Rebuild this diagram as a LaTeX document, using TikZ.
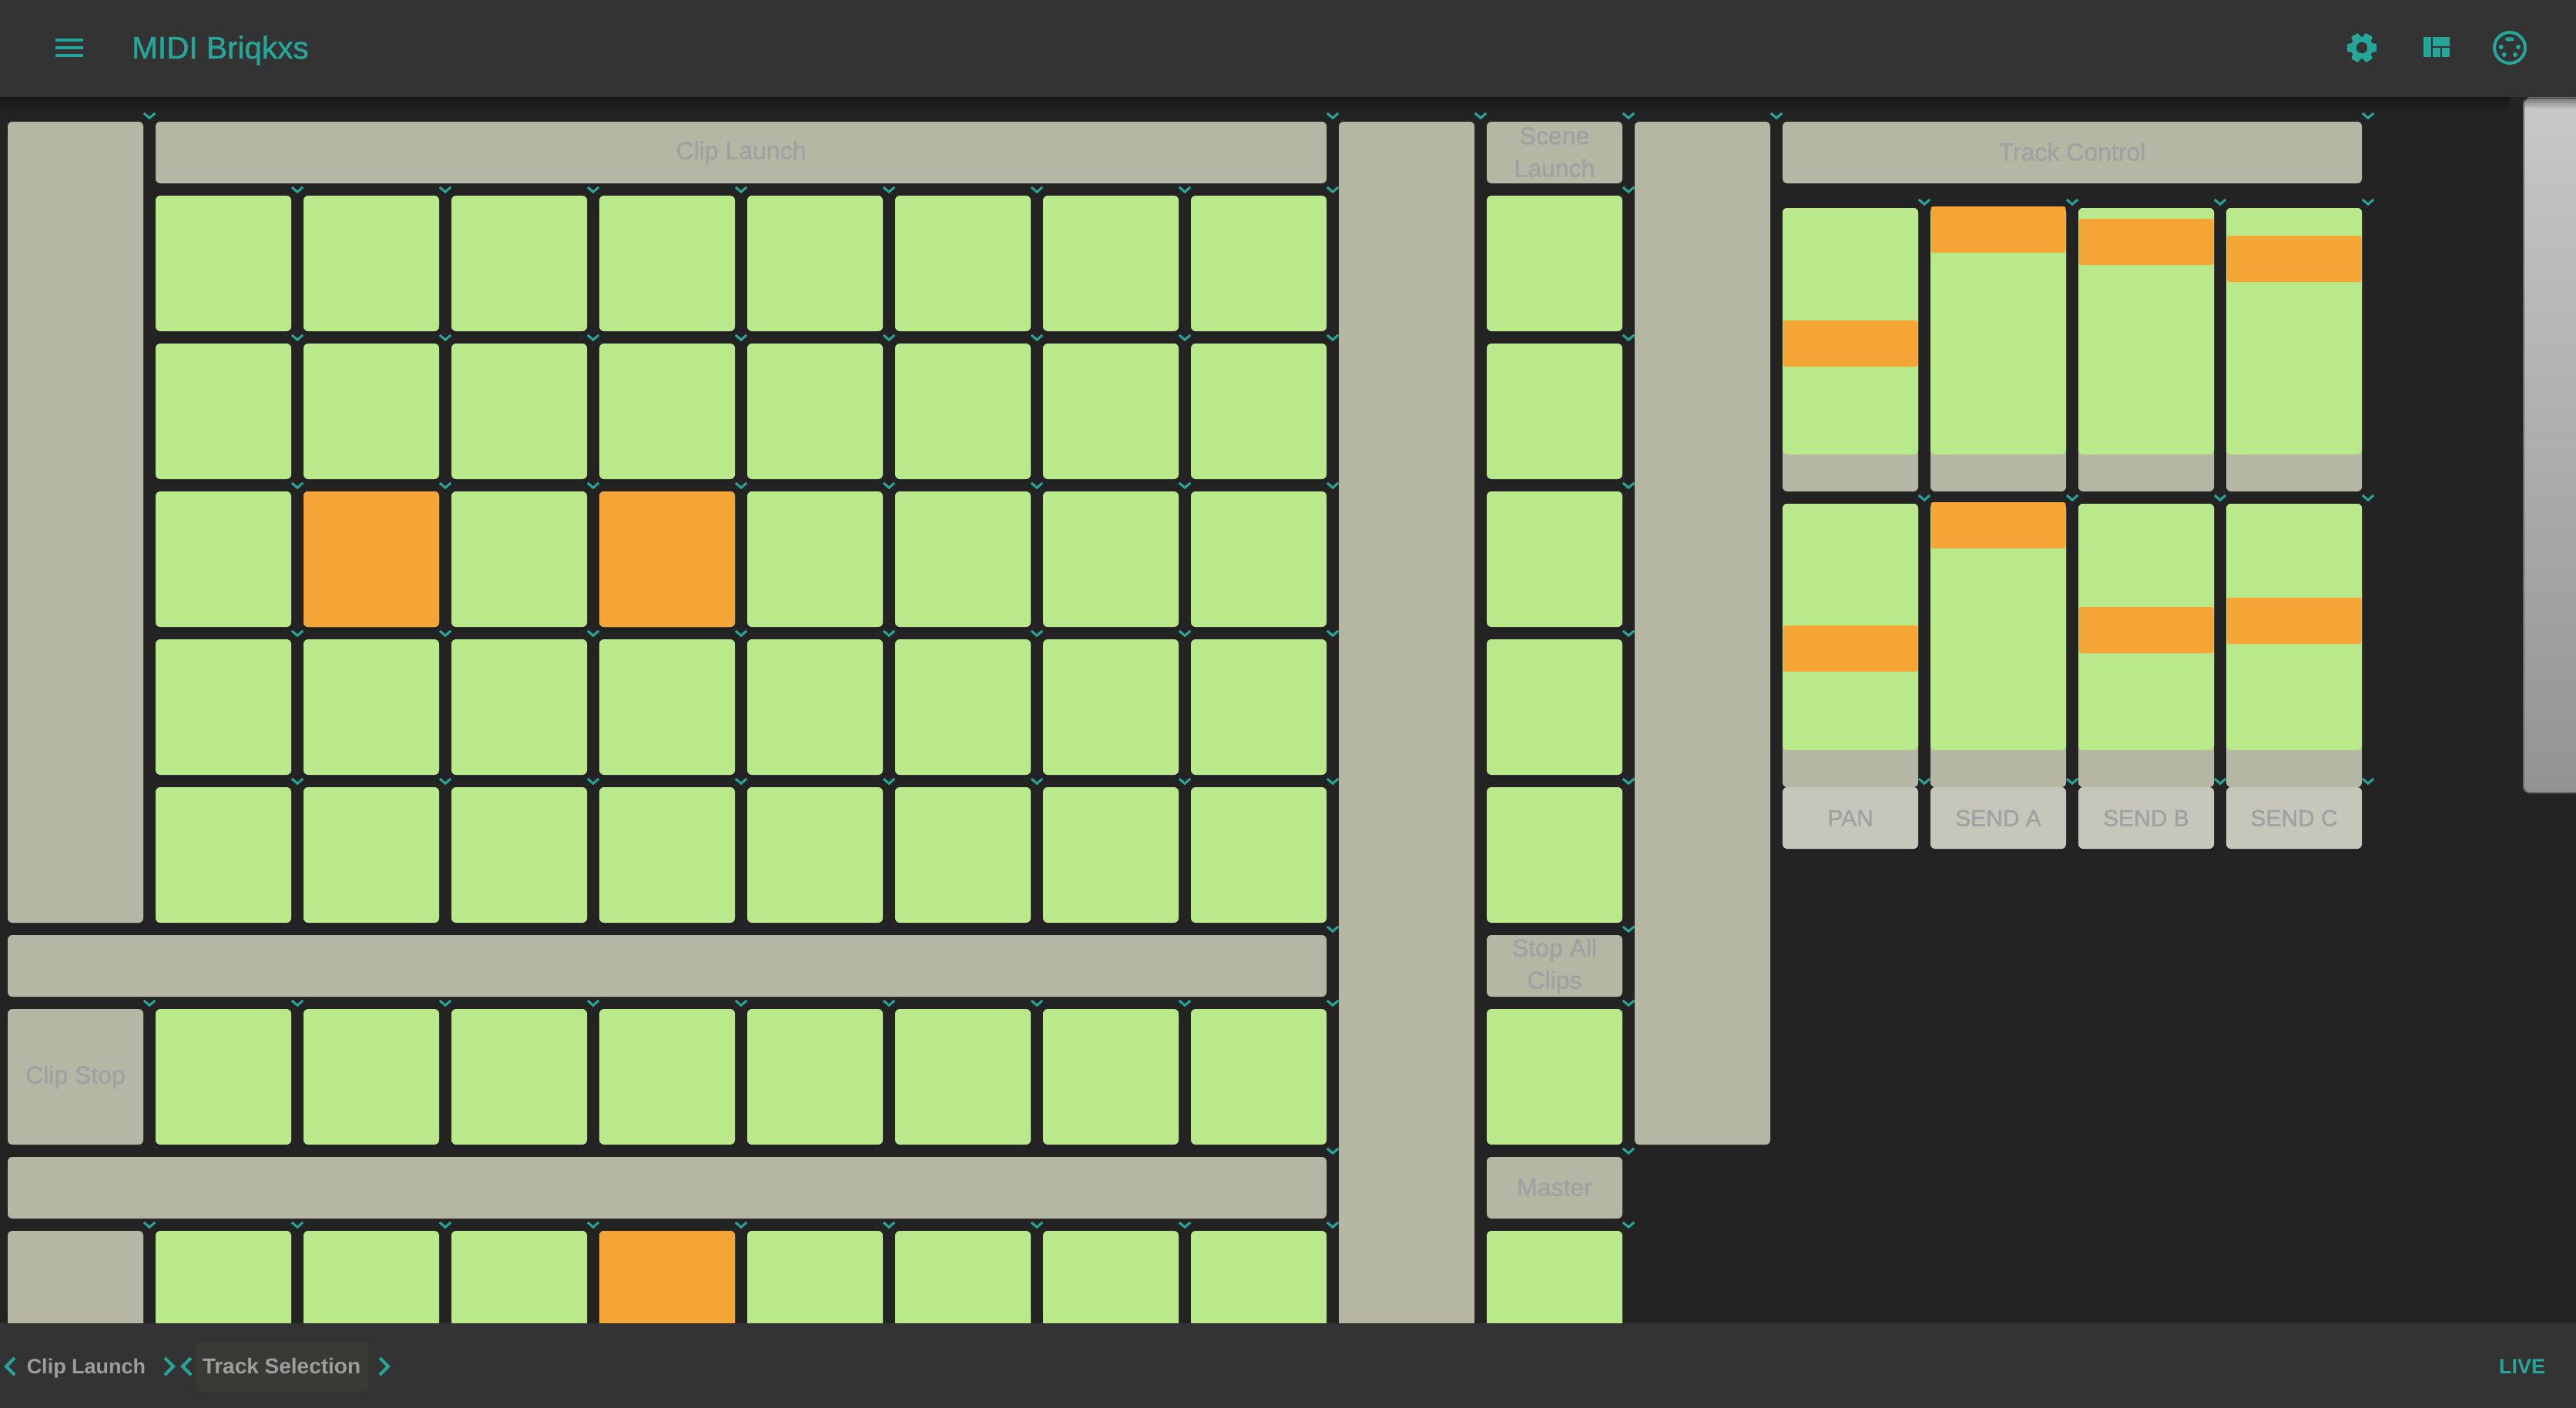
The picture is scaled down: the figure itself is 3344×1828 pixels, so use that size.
\documentclass[tikz,border=0pt]{standalone}
\usepackage{fontspec}
\setmainfont{Liberation Sans}[FakeBold=1.2]
\newfontfamily\barfont{Liberation Sans}
\usetikzlibrary{fadings}
\definecolor{pagebg}{HTML}{232323}
\definecolor{barbg}{HTML}{333333}
\definecolor{padgreen}{HTML}{B9E98B}
\definecolor{padorange}{HTML}{F4A535}
\definecolor{padgrey}{HTML}{B5B6A3}
\definecolor{btngrey}{HTML}{C6C7BA}
\definecolor{teal}{HTML}{26A69A}
\definecolor{dimtext}{HTML}{A0A1A3}
\definecolor{bartext}{HTML}{9D9D9D}
\definecolor{hilite}{HTML}{393A35}
\definecolor{panelrim}{HTML}{6C6C6C}
\definecolor{paneltop}{HTML}{C8C8C8}
\definecolor{panelend}{HTML}{939393}
\tikzset{
  x=1pt,y=-1pt,
  tile/.style={anchor=north west,inner sep=0pt,outer sep=0pt,rounded corners=6pt,text=dimtext,align=center,
    font=\fontsize{32}{42}\selectfont},
  greenpad/.style={tile,fill=padgreen,minimum width=176pt,minimum height=176pt},
  orangepad/.style={tile,fill=padorange,minimum width=176pt,minimum height=176pt},
  greypad/.style={tile,fill=padgrey},
  faderknob/.style={tile,fill=padorange,minimum width=175pt,minimum height=60pt,rounded corners=3pt},
  fadertrack/.style={tile,fill=padgreen,minimum width=176pt,minimum height=320pt},
  faderback/.style={tile,fill=padgrey,minimum width=176pt,minimum height=368pt},
  btn/.style={tile,fill=btngrey,minimum width=176pt,minimum height=80pt,font=\fontsize{30}{36}\selectfont},
  chev/.style={draw=teal,line width=3pt},
  bigchev/.style={draw=teal,line width=4pt},
  ico/.style={fill=teal},
  barlabel/.style={anchor=base,inner sep=0pt,text=bartext,font=\barfont\bfseries\fontsize{27}{32}\selectfont},
  shadowbox/.style={fill=black,opacity=.08,rounded corners=6pt},
}
\newcommand{\vchev}[2]{\draw[chev] (#1-7.2,#2-11) -- (#1,#2-4.8) -- (#1+7.2,#2-11);}
\newcommand{\st}{\rule[-3pt]{0pt}{27pt}}
\begin{document}
\begin{tikzpicture}
\useasboundingbox (0,0) rectangle (3344,1828);
\fill[pagebg] (0,0) rectangle (3344,1828);

% right side panel
\shade[rounded corners=8pt,shading angle=170,top color=paneltop,bottom color=panelend,draw=panelrim,line width=2pt]
  (3350,127) -- (3276,127) -- (3276,1029) -- (3350,1029) -- cycle;
\fill[black,opacity=.4,path fading=south] (3277,127) rectangle (3344,141);

% left column, vertical bars
\node[greypad,minimum width=176pt,minimum height=1040pt] (leftcol) at (10,158) {};
\node[greypad,minimum width=176pt,minimum height=1600pt] (midcol) at (1738,158) {};
\node[greypad,minimum width=176pt,minimum height=1328pt] (rightcol) at (2122,158) {};

% headers and bars
\node[greypad,minimum width=1520pt,minimum height=80pt] (cliphead) at (202,158) {\st Clip Launch};
\node[greypad,minimum width=176pt,minimum height=80pt] (scenehead) at (1930,158) {\st Scene\\\st Launch};
\node[greypad,minimum width=752pt,minimum height=80pt] (trackhead) at (2314,158) {\st Track Control};
\node[greypad,minimum width=1712pt,minimum height=80pt] (bar1) at (10,1214) {};
\node[greypad,minimum width=176pt,minimum height=80pt] (stopall) at (1930,1214) {\st Stop All\\\st Clips};
\node[greypad,minimum width=176pt,minimum height=176pt] (clipstop) at (10,1310) {\st Clip Stop};
\node[greypad,minimum width=1712pt,minimum height=80pt] (bar2) at (10,1502) {};
\node[greypad,minimum width=176pt,minimum height=80pt] (master) at (1930,1502) {\st Master};
\node[greypad,minimum width=176pt,minimum height=176pt] (lowleft) at (10,1598) {};

% pad grid
\foreach \ry in {254,446,638,830,1022,1310,1598}{
  \foreach \cx in {202,394,586,778,970,1162,1354,1546,1930}{
    \fill[shadowbox] (\cx+1,\ry+4) rectangle (\cx+175,\ry+180);
    \node[greenpad] (pad-\ry-\cx) at (\cx,\ry) {};
  }
}
\node[orangepad] (hot1) at (394,638) {};
\node[orangepad] (hot2) at (778,638) {};
\node[orangepad] (hot3) at (778,1598) {};

% faders, upper row
\foreach \fx/\ky in {2314/416,2506/268,2698/284,2890/306}{
  \node[faderback] (backa-\fx) at (\fx,270) {};
  \node[fadertrack] (tracka-\fx) at (\fx,270) {};
  \node[faderknob] (knoba-\fx) at (\fx+.5,\ky) {};
}
% faders, lower row
\foreach \fx/\ky in {2314/812,2506/652,2698/788,2890/776}{
  \node[faderback] (backb-\fx) at (\fx,654) {};
  \node[fadertrack] (trackb-\fx) at (\fx,654) {};
  \node[faderknob] (knobb-\fx) at (\fx+.5,\ky) {};
}
% fader buttons
\foreach \fx/\lab in {2314/PAN,2506/SEND A,2698/SEND B,2890/SEND C}{
  \fill[shadowbox] (\fx,1026) rectangle (\fx+176,1105);
  \node[btn] (btn-\fx) at (\fx,1022) {\st \lab};
}

% chevrons
\foreach \cx in {194,1730,1922,2114,2306,3074}{\vchev{\cx}{158}}
\foreach \ry in {254,446,638,830,1022,1310,1598}{
  \foreach \cx in {386,578,770,962,1154,1346,1538,1730,2114}{\vchev{\cx}{\ry}}
}
\foreach \ry in {1214,1502}{\vchev{1730}{\ry}\vchev{2114}{\ry}}
\vchev{194}{1310}
\vchev{194}{1598}
\foreach \ry in {270,654,1022}{
  \foreach \cx in {2498,2690,2882,3074}{\vchev{\cx}{\ry}}
}

% bottom bar
\fill[barbg] (0,1718) rectangle (3344,1828);
\fill[hilite,rounded corners=5pt] (254,1742) rectangle (478,1806);
\node[barlabel] (bl1) at (112,1783) {Clip Launch};
\node[barlabel,font=\barfont\bfseries\fontsize{28}{32}\selectfont] (bl2) at (365.5,1783) {Track Selection};
\node[barlabel,text=teal] (live) at (3274,1783.5) {LIVE};
\draw[bigchev] (19,1763) -- (8,1774) -- (19,1785);
\draw[bigchev] (214,1763) -- (225,1774) -- (214,1785);
\draw[bigchev] (248,1763) -- (237,1774) -- (248,1785);
\draw[bigchev] (493,1763) -- (504,1774) -- (493,1785);

% top bar shadow and top bar
\fill[black,opacity=.3,path fading=south] (0,126) rectangle (3276,146);
\fill[barbg] (0,0) rectangle (3344,126);
\fill[ico] (72,50) rectangle (108,54);
\fill[ico] (72,60) rectangle (108,64);
\fill[ico] (72,70) rectangle (108,74);
\node[anchor=base west,inner sep=0pt,text=teal,font=\fontsize{40.5}{48}\selectfont] (title) at (171,76) {MIDI Briqkxs};

% gear
\fill[ico] (3066,62) circle (14.5);
\foreach \a in {30,90,150,210,270,330}{
  \fill[ico,shift={(3066,62)},rotate=\a,rounded corners=1pt] (-8,0) -- (-5,19.2) -- (5,19.2) -- (8,0) -- cycle;
}
\fill[barbg] (3066,62) circle (7.3);
% layout icon
\fill[ico] (3146,48) rectangle (3156,74);
\fill[ico] (3158.3,48) rectangle (3180,60);
\fill[ico] (3158.3,62) rectangle (3168,74);
\fill[ico] (3170,62) rectangle (3180,74);
% midi icon
\draw[teal,line width=4pt] (3258,62) circle (20);
\fill[ico] (3246.7,61) circle (3);
\fill[ico] (3269,61) circle (3);
\fill[ico] (3250.7,71) circle (3);
\fill[ico] (3265,71) circle (3);
\fill[ico,rounded corners=2.4pt] (3252.2,48.4) rectangle (3263.6,53.4);
\end{tikzpicture}
\end{document}
